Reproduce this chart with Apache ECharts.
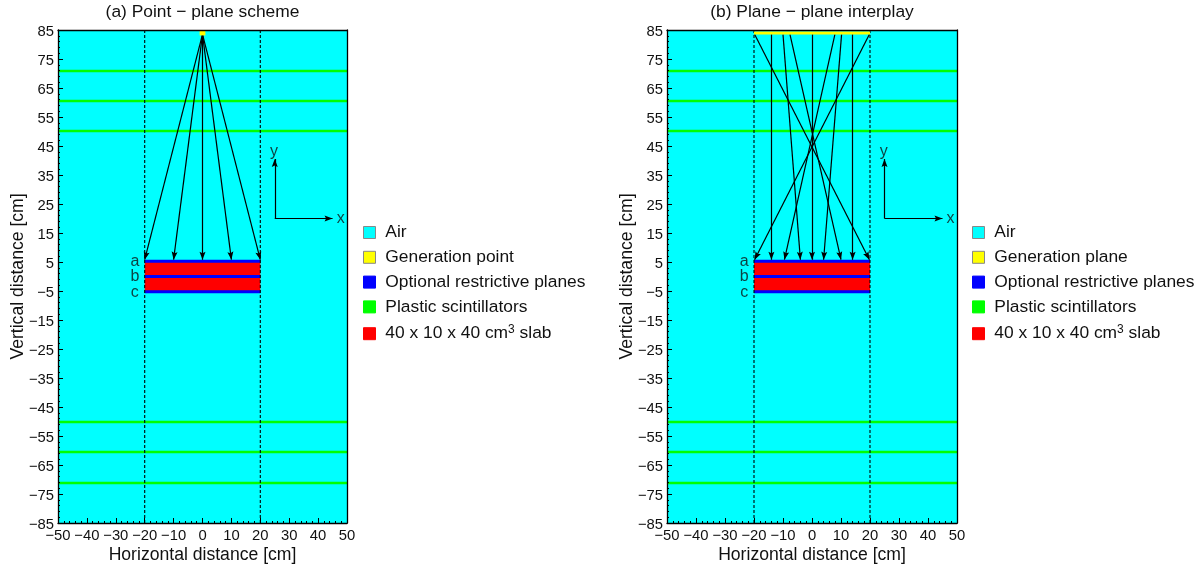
<!DOCTYPE html>
<html><head><meta charset="utf-8">
<style>html,body{margin:0;padding:0;background:#fff}#c{width:1204px;height:571px}</style>
<script src="https://cdn.jsdelivr.net/npm/echarts@6/dist/echarts.min.js"></script>
</head><body><div id="c"></div>
<script>
const xTicks=[-50,-40,-30,-20,-10,0,10,20,30,40,50];
const yTicks=[-85,-75,-65,-55,-45,-35,-25,-15,-5,5,15,25,35,45,55,65,75,85];
const yMinor=[-83,-81,-79,-77,-73,-71,-69,-67,-63,-61,-59,-57,-53,-51,-49,-47,-43,-41,-39,-37,-33,-31,-29,-27,-23,-21,-19,-17,-13,-11,-9,-7,-3,-1,1,3,7,9,11,13,17,19,21,23,27,29,31,33,37,39,41,43,47,49,51,53,57,59,61,63,67,69,71,73,77,79,81,83];
const air=[[-50,-85,50,85]];
const slab=[[-20,-5.3,20,5.3]];
const scint=[[-50,70.9,50,70.9],[-50,60.5,50,60.5],[-50,50.2,50,50.2],[-50,-50.2,50,-50.2],[-50,-60.5,50,-60.5],[-50,-71.2,50,-71.2]];
const planes=[[-20,5.3,20,5.3],[-20,0,20,0],[-20,-5.3,20,-5.3]];
const dashes=[[-20,85,-20,-85],[20,85,20,-85]];
const genPoint=[[-1,84,1,84]];
const genPlane=[[-20,84,20,84]];
const raysA=[[0,83.5,-20,5.8],[0,83.5,-10,5.8],[0,83.5,0,5.8],[0,83.5,10,5.8],[0,83.5,20,5.8]];
const raysB=[[-19.8,83.5,19.8,5.8],[19.8,83.5,-19.8,5.8],[-14,83.5,-14,5.8],[14,83.5,14,5.8],[-10,83.5,-4,5.8],[-7.6,83.5,10,5.8],[0,83.5,0,5.8],[7.9,83.5,-9.5,5.8],[10.2,83.5,4,5.8]];
const axesArrows=[[25,20,45,20],[25,20,25,40.5]];
const notes=[[-23.4,5.3,'a'],[-23.4,0,'b'],[-23.4,-5.7,'c'],[47.8,20,'x'],[24.7,43,'y']];
const titles=['(a) Point − plane scheme','(b) Plane − plane interplay'];
const legendA=['Air','Generation point','Optional restrictive planes','Plastic scintillators','40 x 10 x 40 cm3 slab'];
const legendB=['Air','Generation plane','Optional restrictive planes','Plastic scintillators','40 x 10 x 40 cm3 slab'];
const colors={'Air':'#00ffff','Generation point':'#ffff00','Generation plane':'#ffff00','Optional restrictive planes':'#0000ff','Plastic scintillators':'#00ff00','40 x 10 x 40 cm3 slab':'#ff0000'};

const FONT='"Liberation Sans", Arial, sans-serif', INK='#111';
const FS=17.4, TS=14.8;
const minus=v=>String(v).replace('-','−');
const ARROW='path://M-8,-8M8,8M0,0L3,8L0,6.5L-3,8Z';

function lineItem(width,dash){
  return (p,api)=>{
    const a=api.coord([api.value(0),api.value(1)]),b=api.coord([api.value(2),api.value(3)]);
    return {type:'line',shape:{x1:a[0],y1:a[1],x2:b[0],y2:b[1]},
      style:{stroke:api.visual('color'),lineWidth:width,lineDash:dash||null,lineCap:'butt'}};
  };
}
function rectItem(p,api){
  const a=api.coord([api.value(0),api.value(3)]),b=api.coord([api.value(2),api.value(1)]);
  return {type:'rect',shape:{x:a[0],y:a[1],width:b[0]-a[0],height:b[1]-a[1]},style:{fill:api.visual('color')}};
}
function custom(name,g,data,render,color,z){
  return {type:'custom',name,xAxisIndex:g*2,yAxisIndex:g*3,data,renderItem:render,
    itemStyle:{color},encode:{x:[0,2],y:[1,3]},z,clip:true,silent:true,animation:false};
}
const series=[],xAxis=[],yAxis=[],grid=[],title=[],legend=[];
const gridX=[58,667], gridW=[289,290];
[0,1].forEach(g=>{
  grid.push({left:gridX[g],top:30,width:gridW[g],height:493,containLabel:false,outerBoundsMode:'none'});
  title.push({text:titles[g],left:gridX[g]+gridW[g]/2,top:4,padding:0,textAlign:'center',
    textStyle:{fontFamily:FONT,fontSize:FS,fontWeight:'normal',color:INK}});
  xAxis.push({type:'value',gridIndex:g,min:-50,max:50,interval:10,position:'bottom',z:10,
    name:'Horizontal distance [cm]',nameLocation:'middle',nameGap:23,nameMoveOverlap:false,
    nameTextStyle:{fontFamily:FONT,fontSize:17.6,color:INK},
    axisLine:{show:true,onZero:false,lineStyle:{color:'#000',width:1.3}},
    axisTick:{show:true,inside:true,length:5,lineStyle:{color:'#000',width:1}},
    minorTick:{show:true,splitNumber:5,length:2,lineStyle:{color:'#000',width:1}},
    splitLine:{show:false},minorSplitLine:{show:false},
    axisLabel:{show:true,formatter:minus,fontFamily:FONT,fontSize:TS,color:INK,margin:5,showMinLabel:true,showMaxLabel:true,hideOverlap:false}});
  xAxis.push({type:'value',gridIndex:g,min:-50,max:50,interval:10,position:'top',z:10,
    axisLine:{show:true,onZero:false,lineStyle:{color:'#000',width:1.3}},axisTick:{show:false},axisLabel:{show:false},splitLine:{show:false}});
  yAxis.push({type:'value',gridIndex:g,min:-85,max:85,interval:5,position:'left',z:10,
    name:'Vertical distance [cm]',nameLocation:'middle',nameGap:31,nameMoveOverlap:false,
    nameTextStyle:{fontFamily:FONT,fontSize:17.6,color:INK},
    axisLine:{show:true,onZero:false,lineStyle:{color:'#000',width:1.3}},
    axisTick:{show:true,inside:true,length:5,customValues:yTicks,lineStyle:{color:'#000',width:1}},
    splitLine:{show:false},
    axisLabel:{show:true,customValues:yTicks,formatter:v=>'{v|'+minus(v)+'}',margin:4,hideOverlap:false,
      rich:{v:{fontFamily:FONT,fontSize:TS,color:INK,padding:[4,0,0,0]}}}});
  yAxis.push({type:'value',gridIndex:g,min:-85,max:85,interval:5,position:'left',z:10,
    axisLine:{show:false,onZero:false},
    axisTick:{show:true,inside:true,length:2,customValues:yMinor,lineStyle:{color:'#000',width:1}},
    axisLabel:{show:false},splitLine:{show:false}});
  yAxis.push({type:'value',gridIndex:g,min:-85,max:85,interval:5,position:'right',z:10,
    axisLine:{show:true,onZero:false,lineStyle:{color:'#000',width:1.3}},axisTick:{show:false},axisLabel:{show:false},splitLine:{show:false}});

  series.push(custom('Air',g,air,rectItem,colors['Air'],1));
  series.push(custom('Plastic scintillators',g,scint,lineItem(2.5),colors['Plastic scintillators'],2));
  series.push(custom('40 x 10 x 40 cm3 slab',g,slab,rectItem,colors['40 x 10 x 40 cm3 slab'],3));
  series.push(custom('Optional restrictive planes',g,planes,lineItem(3),colors['Optional restrictive planes'],4));
  series.push(custom('dashes'+g,g,dashes,lineItem(1.1,[3,2]),'#000',5));
  const rays=(g?raysB:raysA).concat(axesArrows).map(r=>({coords:[[r[0],r[1]],[r[2],r[3]]]}));
  series.push({type:'lines',coordinateSystem:'cartesian2d',xAxisIndex:g*2,yAxisIndex:g*3,data:rays,
    polyline:false,symbol:['none',ARROW],symbolSize:[0,16],
    lineStyle:{color:'#000',width:1.2,opacity:1,curveness:0},z:6,silent:true,animation:false});
  series.push(custom(g?'Generation plane':'Generation point',g,g?genPlane:genPoint,lineItem(g?3:5),'#ffff00',7));
  series.push({type:'scatter',xAxisIndex:g*2,yAxisIndex:g*3,data:notes.map(n=>[n[0],n[1],n[2]]),symbolSize:0,
    label:{show:true,position:'inside',formatter:p=>p.value[2],fontFamily:FONT,fontSize:16,color:'#111'},z:8,silent:true,animation:false});
  legend.push({orient:'vertical',left:gridX[g]+300,top:219,itemWidth:12,itemHeight:12,itemGap:7.8,selectedMode:false,
    icon:'rect',
    data:(g?legendB:legendA).map(n=>({name:n,icon:'rect',itemStyle:{color:colors[n],borderColor:n==='Air'||n.startsWith('Gen')?'#888':colors[n],borderWidth:1}})),
    formatter:n=>' '+n.replace('cm3','cm{s|3}'),
    textStyle:{fontFamily:FONT,fontSize:FS,color:INK,rich:{s:{fontFamily:FONT,fontSize:12,color:INK,verticalAlign:'bottom',padding:[0,0,9,0]}}}});
});
echarts.init(document.getElementById('c'),null,{renderer:'canvas'}).setOption({
  animation:false,backgroundColor:'#fff',title,grid,xAxis,yAxis,series,legend,tooltip:{show:false}
});
</script></body></html>
